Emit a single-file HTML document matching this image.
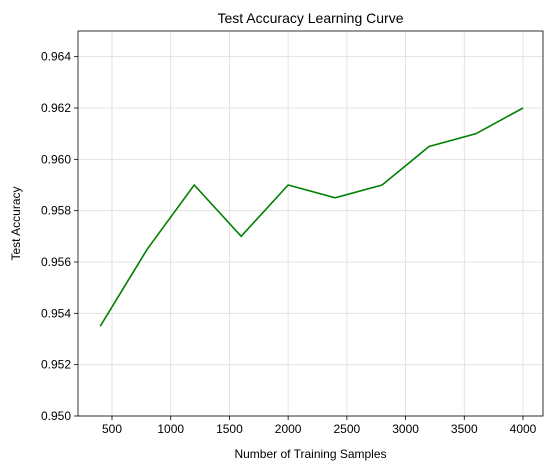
<!DOCTYPE html>
<html><head><meta charset="utf-8"><style>
body{margin:0;background:#fff;}
svg{font-family:"Liberation Sans","DejaVu Sans",sans-serif;}
</style></head><body>
<svg id="chart" width="553" height="470"></svg>
<script>
const samples=[400,800,1200,1600,2000,2400,2800,3200,3600,4000];
const accuracy=[0.9535,0.9565,0.959,0.957,0.959,0.9585,0.959,0.9605,0.961,0.962];
const xTicks=[500,1000,1500,2000,2500,3000,3500,4000];
const yTicks=[0.950,0.952,0.954,0.956,0.958,0.960,0.962,0.964];
const L=78,R=543,T=31,B=416;
const xS=v=>112+(v-500)*(411/3500);
const yS=v=>B-(v-0.950)*(B-T)/0.015;
const svg=document.getElementById('chart');
const NS='http://www.w3.org/2000/svg';
function mk(tag,attrs,parent){const e=document.createElementNS(NS,tag);for(const k in attrs)e.setAttribute(k,attrs[k]);(parent||svg).appendChild(e);return e;}
const grid=mk('g',{});


xTicks.forEach(t=>{const x=xS(t);mk('line',{x1:x,x2:x,y1:T,y2:B,stroke:'#ddd','stroke-width':0.8},grid);
mk('line',{x1:x,x2:x,y1:B,y2:B+4,stroke:'#000','stroke-width':0.8});
const tx=mk('text',{x:x,y:B+17,'font-size':12,'text-anchor':'middle'});tx.textContent=t;

});
yTicks.forEach(t=>{const y=yS(t);mk('line',{x1:L,x2:R,y1:y,y2:y,stroke:'#ddd','stroke-width':0.8},grid);
mk('line',{x1:L-4,x2:L,y1:y,y2:y,stroke:'#000','stroke-width':0.8});
const tx=mk('text',{x:L-7,y:y+4,'font-size':12,'text-anchor':'end'});tx.textContent=t.toFixed(3);

});
const line=mk('polyline',{points:samples.map((s,i)=>xS(s)+','+yS(accuracy[i])).join(' '),fill:'none',stroke:'#008000','stroke-width':1.6});


const frame=mk('rect',{x:L,y:T,width:R-L,height:B-T,fill:'none',stroke:'#000','stroke-width':0.8});


const title=mk('text',{x:(L+R)/2,y:23,'font-size':14,'text-anchor':'middle'});title.textContent='Test Accuracy Learning Curve';


const xl=mk('text',{x:(L+R)/2,y:458,'font-size':12,'text-anchor':'middle'});xl.textContent='Number of Training Samples';


const yl=mk('text',{x:0,y:0,'font-size':12,'text-anchor':'middle',transform:'translate(20,'+((T+B)/2)+') rotate(-90)'});yl.textContent='Test Accuracy';


</script>
</body></html>
